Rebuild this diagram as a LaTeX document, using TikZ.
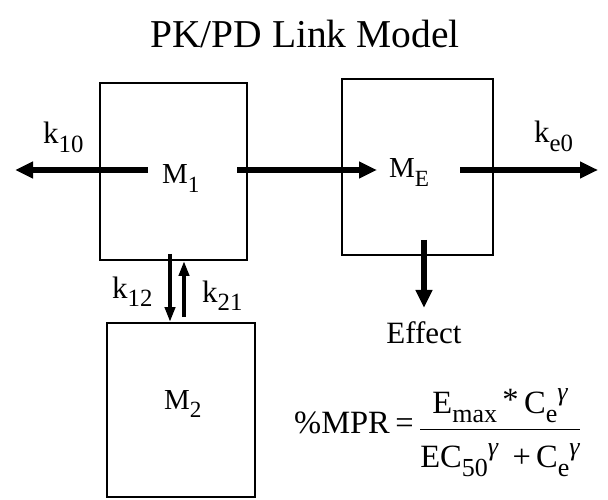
\documentclass[tikz,border=0pt]{standalone}
\usepackage{amsmath}
\usepackage{fontspec}
\setmainfont{Liberation Serif}
\usetikzlibrary{arrows.meta,positioning}
\newcommand{\lo}[1]{\raisebox{-0.28em}{\scalebox{0.8}{#1}}}
\newcommand{\hi}[1]{\raisebox{0.38em}{\scalebox{0.8}{\itshape #1}}}

\begin{document}
\begin{tikzpicture}[
  x=1pt, y=-1pt,
  comp/.style={draw, line width=1.8pt, minimum width=147pt, minimum height=177pt, inner sep=0pt},
  lbl/.style={font=\fontsize{29}{34}\selectfont, inner sep=0pt, anchor=base west},
  rate/.style={font=\fontsize{31}{36}\selectfont, inner sep=0pt, anchor=base west},
  flow/.style={line width=6pt, -{Triangle[length=18pt,width=16pt]}},
  xfer/.style={line width=4pt, -{Triangle[length=15pt,width=10pt]}},
]
\useasboundingbox (0,0) rectangle (608,500);
\node[font=\fontsize{39.5}{46}\selectfont, inner sep=0pt, anchor=base] (title) at (305,48) {PK/PD Link Model};
% compartments
\node[comp] (M1) at (173.5,171.5) {};
\node[comp, minimum width=151pt, minimum height=176pt] (ME) at (417.5,167) {};
\node[comp, minimum width=148pt, minimum height=174pt] (M2) at (181,410) {};
\node[lbl] (M1t) at (162,184) {M\lo{1}};
\node[lbl] (MEt) at (389,178) {M\lo{E}};
\node[lbl] (M2t) at (164,409) {M\lo{2}};
% rate constants
\node[rate] (k10) at (43,144) {k\lo{10}};
\node[rate] (ke0) at (534,143) {k\lo{e0}};
\node[rate] (k12) at (112,298) {k\lo{12}};
\node[rate] (k21) at (202,302) {k\lo{21}};
\node[rate, anchor=base] (eff) at (424,343) {Effect};
\node[rate, font=\fontsize{32.5}{38}\selectfont] (mpr) at (294,433)
  {\%MPR\,=\,\raisebox{-3pt}{$\dfrac{\text{E\lo{max}\,\raisebox{0.1em}{*}\,C\lo{e}\hi{γ}\rule[-0.4em]{0pt}{0.5em}}}{\text{\rule{0pt}{1.05em}EC\lo{50}\hi{γ}\;\,+\,C\lo{e}\hi{γ}}}$}};
\coordinate (k10end) at (15,170);
\coordinate (ke0end) at (598,170);
\coordinate (dn) at (170,0);
\coordinate (up) at (184,0);
% flows
\draw[flow, shorten <=25.5pt] (M1 |- k10end) -- (k10end);
\draw[flow, shorten <=63.5pt, shorten >=40.5pt] (M1 |- k10end) -- (ME |- k10end);
\draw[flow, shorten <=42.5pt] (ME |- ke0end) -- (ke0end);
\draw[flow] ([yshift=16pt]ME.south -| eff) -- ([yshift=13pt]eff.north);
\draw[xfer] ([yshift=7pt]M1.south -| dn) -- (M2.north -| dn);
\draw[xfer] ([yshift=5pt]M2.north -| up) -- (M1.south -| up);
\end{tikzpicture}
\end{document}
